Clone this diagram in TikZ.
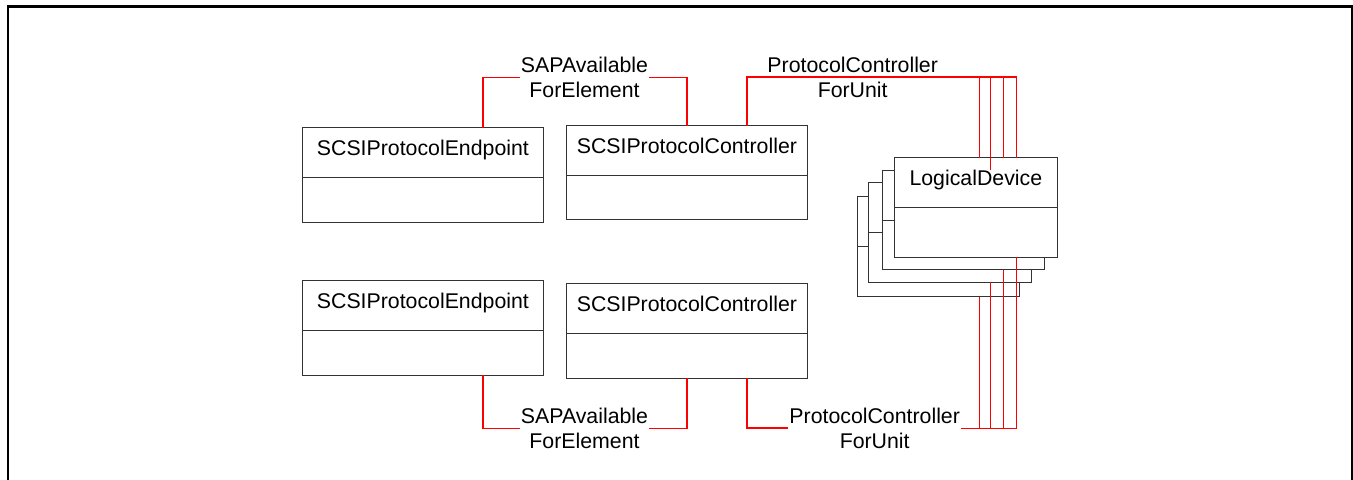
\documentclass[tikz,border=0pt]{standalone}
\usepackage{fontspec}
\setmainfont{Liberation Sans}
\usetikzlibrary{positioning,calc}

\begin{document}
\begin{tikzpicture}[
    x=0.5pt, y=-0.5pt,
    font=\fontsize{10.65}{12.85}\selectfont,
    classhead/.style={rectangle, draw=black!80, fill=white, line width=0.5pt, anchor=north west, inner sep=0pt, outer sep=0pt, minimum height=25pt, text height=8pt, text depth=5pt},
    classbody/.style={rectangle, draw=black!80, fill=white, line width=0.5pt, inner sep=0pt, outer sep=0pt, below=0pt of #1},
    wide/.style={minimum width=120.2pt},
    narrow/.style={minimum width=81.15pt},
    assoc/.style={draw=red, line width=0.75pt},
    bus/.style={draw=red, line width=1pt},
    lbl/.style={align=center, inner xsep=0.5pt, inner ysep=0pt}
]
    \useasboundingbox (0,0) rectangle (1353,480);
    \draw[line width=1.35pt] (8,480) |- (1352,6.8) -- (1352,480);

    \node[classhead, wide] (pep1) at (302.7,127.7) {SCSIProtocolEndpoint};
    \node[classbody=pep1, wide, minimum height=22.2pt] (pep1-attr) {};
    \node[classhead, wide] (pc1) at (566.7,125.7) {SCSIProtocolController};
    \node[classbody=pc1, wide, minimum height=22pt] (pc1-attr) {};
    \node[classhead, wide] (pep2) at (302.7,280.7) {SCSIProtocolEndpoint};
    \node[classbody=pep2, wide, minimum height=22.2pt] (pep2-attr) {};
    \node[classhead, wide] (pc2) at (566.7,283.7) {SCSIProtocolController};
    \node[classbody=pc2, wide, minimum height=22.2pt] (pc2-attr) {};

    \foreach \n/\x/\y in {4/857.3/197, 3/868.7/182.7, 2/882.3/170.3} {
        \node[classhead, narrow] (ld\n) at (\x,\y) {};
        \node[classbody=ld\n, narrow, minimum height=24.85pt] (ld\n-attr) {};
    }
    \node[classhead, narrow] (ld1) at (894.7,157.7) {LogicalDevice};
    \node[classbody=ld1, narrow, minimum height=24.85pt] (ld1-attr) {};

    \foreach \i/\x in {1/979.5, 2/990.5, 3/1003.5, 4/1016.5} {
        \coordinate (top\i) at (\x,77.3);
        \coordinate (bot\i) at (\x,428.3);
    }

    \node[lbl] (sap1) at (584.5,77.3) {SAPAvailable\\ForElement};
    \node[lbl] (sap2) at (584.5,428.3) {SAPAvailable\\ForElement};
    \node[lbl] (pcfu1) at (852.7,77.3) {ProtocolController\\ForUnit};
    \node[lbl] (pcfu2) at (874.7,428.3) {ProtocolController\\ForUnit};

    \draw[assoc] ($(pep1.north)+(60,0)$) |- (sap1.west);
    \draw[assoc] (sap1.east) -| (pc1.north);
    \draw[assoc] ($(pep2-attr.south)+(60,0)$) |- (sap2.west);
    \draw[assoc] (sap2.east) -| (pc2-attr.south);

    \draw[bus] ($(pc1.north)+(60,0)$) |- (top4);
    \draw[assoc] (top1) -- (top1 |- ld1.north);
    \draw[assoc] (top2) -- (top2 |- ld2.north);
    \draw[assoc] (top3) -- (top3 |- ld1.north);
    \draw[assoc] (top4) -- (top4 |- ld1.north);

    \draw[bus] ($(pc2-attr.south)+(60,0)$) |- (pcfu2.west);
    \draw[assoc] (pcfu2.east) -- (bot4);
    \draw[assoc] (bot1) -- (bot1 |- ld4-attr.south);
    \draw[assoc] (bot2) -- (bot2 |- ld3-attr.south);
    \draw[assoc] (bot3) -- (bot3 |- ld2-attr.south);
    \draw[assoc] (bot4) -- (bot4 |- ld1-attr.south);
\end{tikzpicture}
\end{document}
